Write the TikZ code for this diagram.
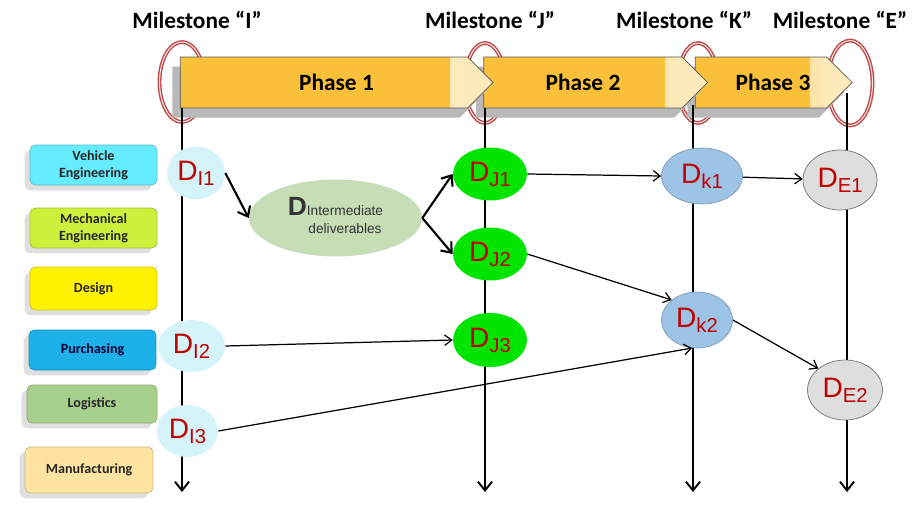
\documentclass[tikz,border=0pt]{standalone}
\usepackage{fontspec}
\setmainfont{Carlito}
\newfontfamily\arialfont{Liberation Sans}
\usetikzlibrary{arrows.meta, positioning, shapes.geometric, shapes.symbols, shadows}
\definecolor{phaseyellow}{RGB}{250,192,58}
\definecolor{ringred}{RGB}{192,72,72}
\definecolor{dred}{RGB}{192,0,0}
\definecolor{vehcyan}{RGB}{102,236,255}
\definecolor{mechlime}{RGB}{204,240,60}
\definecolor{desyellow}{RGB}{255,242,0}
\definecolor{purblue}{RGB}{30,176,232}
\definecolor{loggreen}{RGB}{168,208,141}
\definecolor{manforange}{RGB}{255,227,160}
\definecolor{icyan}{RGB}{212,244,250}
\definecolor{jgreen}{RGB}{0,228,0}
\definecolor{kblue}{RGB}{157,195,230}
\definecolor{egray}{RGB}{222,222,222}
\definecolor{intgreen}{RGB}{198,222,181}

\newcommand{\dlabel}[1]{{\arialfont\color{dred}\fontsize{16}{16}\selectfont D\raisebox{-2.8pt}{\fontsize{11.5}{11.5}\selectfont #1}}}

\begin{document}
\begin{tikzpicture}[
    x=0.02cm, y=-0.02cm,
    milestone/.style={font=\bfseries\fontsize{13.3}{14}\selectfont},
    ring/.style={ellipse, draw=ringred, line width=0.8pt, double=white!85!ringred, double distance=0.6pt},
    phase/.style={signal, signal to=east, signal pointer angle=90, draw=black!65, fill=phaseyellow,
        minimum height=1.02cm, inner sep=0pt, font=\bfseries\fontsize{13.3}{14}\selectfont,
        drop shadow={shadow xshift=-4.5pt, shadow yshift=-5.5pt, fill=gray!55, opacity=1},
        path picture={
            \shade[left color=phaseyellow, right color=white!75!phaseyellow]
                ([xshift=-0.85cm]path picture bounding box.south east) rectangle ([xshift=-0.55cm]path picture bounding box.north east);
            \fill[white!65!phaseyellow]
                ([xshift=-0.55cm]path picture bounding box.south east) rectangle (path picture bounding box.north east);
        }},
    dept/.style={rounded corners=3pt, minimum width=2.54cm, minimum height=0.8cm, inner sep=1pt, align=center,
        font=\bfseries\fontsize{8}{9.5}\selectfont, text=black!85,
        drop shadow={shadow xshift=-3pt, shadow yshift=-3pt, opacity=0.25}},
    dlv/.style={ellipse, inner sep=0pt},
    timeline/.style={line width=1.1pt, -{Straight Barb[length=5pt,width=8pt]}},
    flow/.style={line width=1.2pt, -{Straight Barb[length=5pt,width=8pt]}},
    link/.style={line width=0.7pt, -{Straight Barb[length=4pt,width=6pt]}}
]
\useasboundingbox (0,0) rectangle (912,510);

% === Milestones ===
\node[milestone] (msI) at (197,20) {Milestone “I”};
\node[milestone] (msJ) at (490,20) {Milestone “J”};
\node[milestone] (msK) at (684,20) {Milestone “K”};
\node[milestone] (msE) at (840,20) {Milestone “E”};

\node[ring, minimum width=0.9cm, minimum height=1.6cm] (ringI) at (182,82) {};
\node[ring, minimum width=0.8cm, minimum height=1.6cm] (ringJ) at (485,83) {};
\node[ring, minimum width=0.8cm, minimum height=1.6cm] (ringK) at (698,83) {};
\node[ring, minimum width=0.9cm, minimum height=1.7cm] (ringE) at (850,83) {};

% === Phases ===
\node[phase, minimum width=3.14cm] (ph3) at (761,82.5) {\hspace*{0.48cm}Phase 3};
\node[phase, minimum width=4.48cm] (ph2) at (583,82.5) {Phase 2};
\node[phase, minimum width=6.26cm] (ph1) at (324,82.5) {\hspace*{0.5cm}Phase 1};

% === Time lines ===
\coordinate (topI) at (182,108);
\coordinate (botI) at (182,492);
\coordinate (topJ) at (485,108);
\coordinate (botJ) at (485,492);
\coordinate (topK) at (693,105);
\coordinate (botK) at (693,492);
\coordinate (topE) at (847,93);
\coordinate (botE) at (847,492);
\draw[timeline] (topI) -- (botI);
\draw[timeline] (topJ) -- (botJ);
\draw[timeline] (topK) -- (botK);
\draw[timeline] (topE) -- (botE);

% === Departments ===
\node[dept, fill=vehcyan, draw=vehcyan!80!black] (vehicle) at (93.5,165) {Vehicle\\Engineering};
\node[dept, fill=mechlime, draw=mechlime!80!black] (mechanical) at (93.5,228) {Mechanical\\Engineering};
\node[dept, fill=desyellow, draw=desyellow!80!black, minimum height=0.86cm] (design) at (93.5,288.5) {Design};
\node[dept, fill=purblue, draw=purblue!80!black, text=blue!20!black] (purchasing) at (92.5,350) {Purchasing};
\node[dept, fill=loggreen, draw=loggreen!80!black, minimum width=2.6cm, minimum height=0.76cm] (logistics) at (92,404) {Logistics};
\node[dept, fill=manforange, draw=manforange!80!black, minimum width=2.56cm, minimum height=0.92cm] (manufacturing) at (89,470) {Manufacturing};

% === Deliverables ===
\node[dlv, fill=icyan, minimum width=1.16cm, minimum height=1.06cm] (dI1) at (196,173) {\dlabel{I1}};
\node[dlv, fill=icyan, minimum width=1.34cm, minimum height=1.04cm] (dI2) at (191.5,346) {\dlabel{I2}};
\node[dlv, fill=icyan, minimum width=1.22cm, minimum height=1.04cm] (dI3) at (187.5,431) {\dlabel{I3}};

\node[dlv, fill=intgreen, minimum width=3.46cm, minimum height=1.54cm, text=black!80] (dInt) at (335.5,218)
    {{\arialfont\bfseries\fontsize{15}{15}\selectfont D}{\arialfont\fontsize{7.8}{10}\selectfont\begin{tabular}[t]{@{}c@{}}Intermediate\\deliverables\end{tabular}}};

\node[dlv, fill=jgreen, minimum width=1.48cm, minimum height=1.06cm] (dJ1) at (490,174) {\dlabel{J1}};
\node[dlv, fill=jgreen, minimum width=1.48cm, minimum height=1.06cm] (dJ2) at (490,254) {\dlabel{J2}};
\node[dlv, fill=jgreen, minimum width=1.48cm, minimum height=1.08cm] (dJ3) at (490,340) {\dlabel{J3}};

\node[dlv, fill=kblue, draw=kblue!80!black, minimum width=1.62cm, minimum height=1.12cm] (dk1) at (702,176) {\dlabel{k1}};
\node[dlv, fill=kblue, draw=kblue!80!black, minimum width=1.42cm, minimum height=1.12cm] (dk2) at (697,320) {\dlabel{k2}};

\node[dlv, fill=egray, draw=black!55, minimum width=1.48cm, minimum height=1.2cm] (dE1) at (840,180) {\dlabel{E1}};
\node[dlv, fill=egray, draw=black!55, minimum width=1.5cm, minimum height=1.2cm] (dE2) at (845,390) {\dlabel{E2}};

% === Dependencies ===
\draw[flow] (dI1.east) -- (dInt.west);
\draw[flow] (dInt.east) -- (dJ1.west);
\draw[flow] (dInt.east) -- (dJ2.west);

\draw[link] (dJ1.east) -- (dk1.west);
\draw[link] (dk1) -- (dE1);
\draw[link] (dJ2.east) -- (dk2.north west);
\draw[link] (dk2.east) -- (dE2.north west);
\draw[link] (dI2.east) -- (dJ3.west);
\draw[link] (dI3.east) -- (dk2.260);

\end{tikzpicture}
\end{document}
